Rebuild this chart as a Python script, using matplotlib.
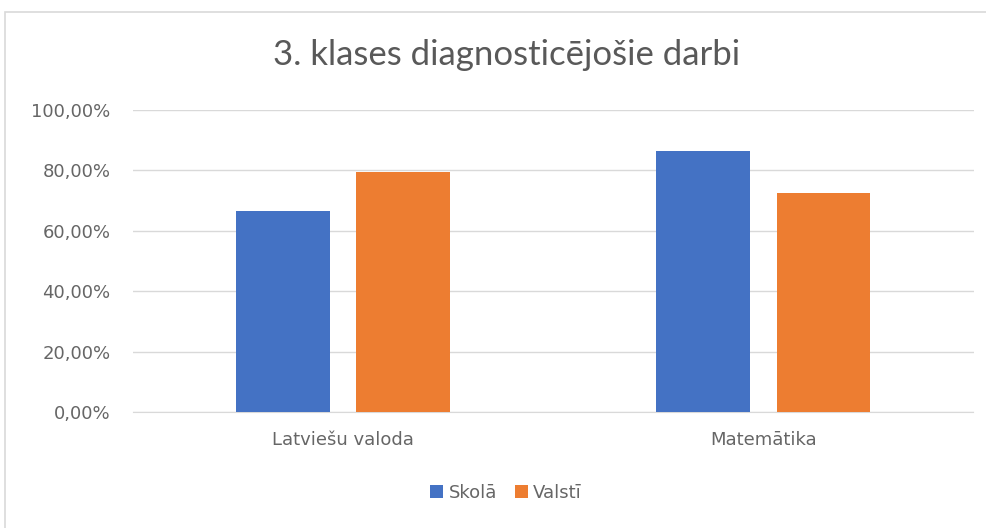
import numpy as np
import matplotlib

matplotlib.use('Agg')

from matplotlib import pyplot as plt
from matplotlib.patches import Rectangle
from matplotlib.ticker import FuncFormatter

##### Data #####
categories = ['Latviešu valoda', 'Matemātika']
skola = [66.5, 86.3]
valsti = [79.6, 72.4]
series_names = ['Skolā', 'Valstī']

plt.rcParams['font.family'] = ['DejaVu Sans']

fig = plt.figure(figsize=(9.86, 5.28), dpi=100)
fig.patches.append(Rectangle((5 / 986, -0.1), 1.1, 1 - 12 / 528 + 0.1, transform=fig.transFigure,
                             fill=False, edgecolor='#d9d9d9', linewidth=1.2))

# axes placed in pixel coords of the reference
ax = fig.add_axes([132.7 / 986, 1 - 412 / 528, (973.5 - 132.7) / 986, (412 - 110) / 528])

x = np.arange(len(categories))
w = 0.2227
off = 0.143
ax.bar(x - off, skola, w, color='#4472c4', label=series_names[0], zorder=3)
ax.bar(x + off, valsti, w, color='#ed7d31', label=series_names[1], zorder=3)

ax.set_xlim(-0.5, len(categories) - 0.5)
ax.set_ylim(0, 100)
ax.set_yticks(np.arange(0, 101, 20))
ax.yaxis.set_major_formatter(FuncFormatter(lambda v, p: ('%.2f%%' % v).replace('.', ',')))
ax.set_xticks(x)
ax.set_xticklabels(categories)
ax.grid(axis='y', color='#d9d9d9', linewidth=1, zorder=0)
for s in ['top', 'right', 'left']:
    ax.spines[s].set_visible(False)
ax.spines['bottom'].set_color('#d9d9d9')
ax.tick_params(length=0, colors='#666666', labelsize=13)
ax.tick_params(axis='y', pad=16)
ax.tick_params(axis='x', pad=14)

fig.text(507 / 986, 1 - 55 / 528, '3. klases diagnosticējošie darbi', ha='center', va='center',
         fontsize=25, color='#595959', family=['Lato', 'DejaVu Sans'])

fig.legend(*ax.get_legend_handles_labels(), loc='center', bbox_to_anchor=(506 / 986, 1 - 493 / 528),
           ncol=2, frameon=False, fontsize=13, handlelength=0.7, handleheight=0.7,
           handletextpad=0.3, columnspacing=1.0, labelcolor='#666666')

plt.savefig('out.png', dpi=100)
